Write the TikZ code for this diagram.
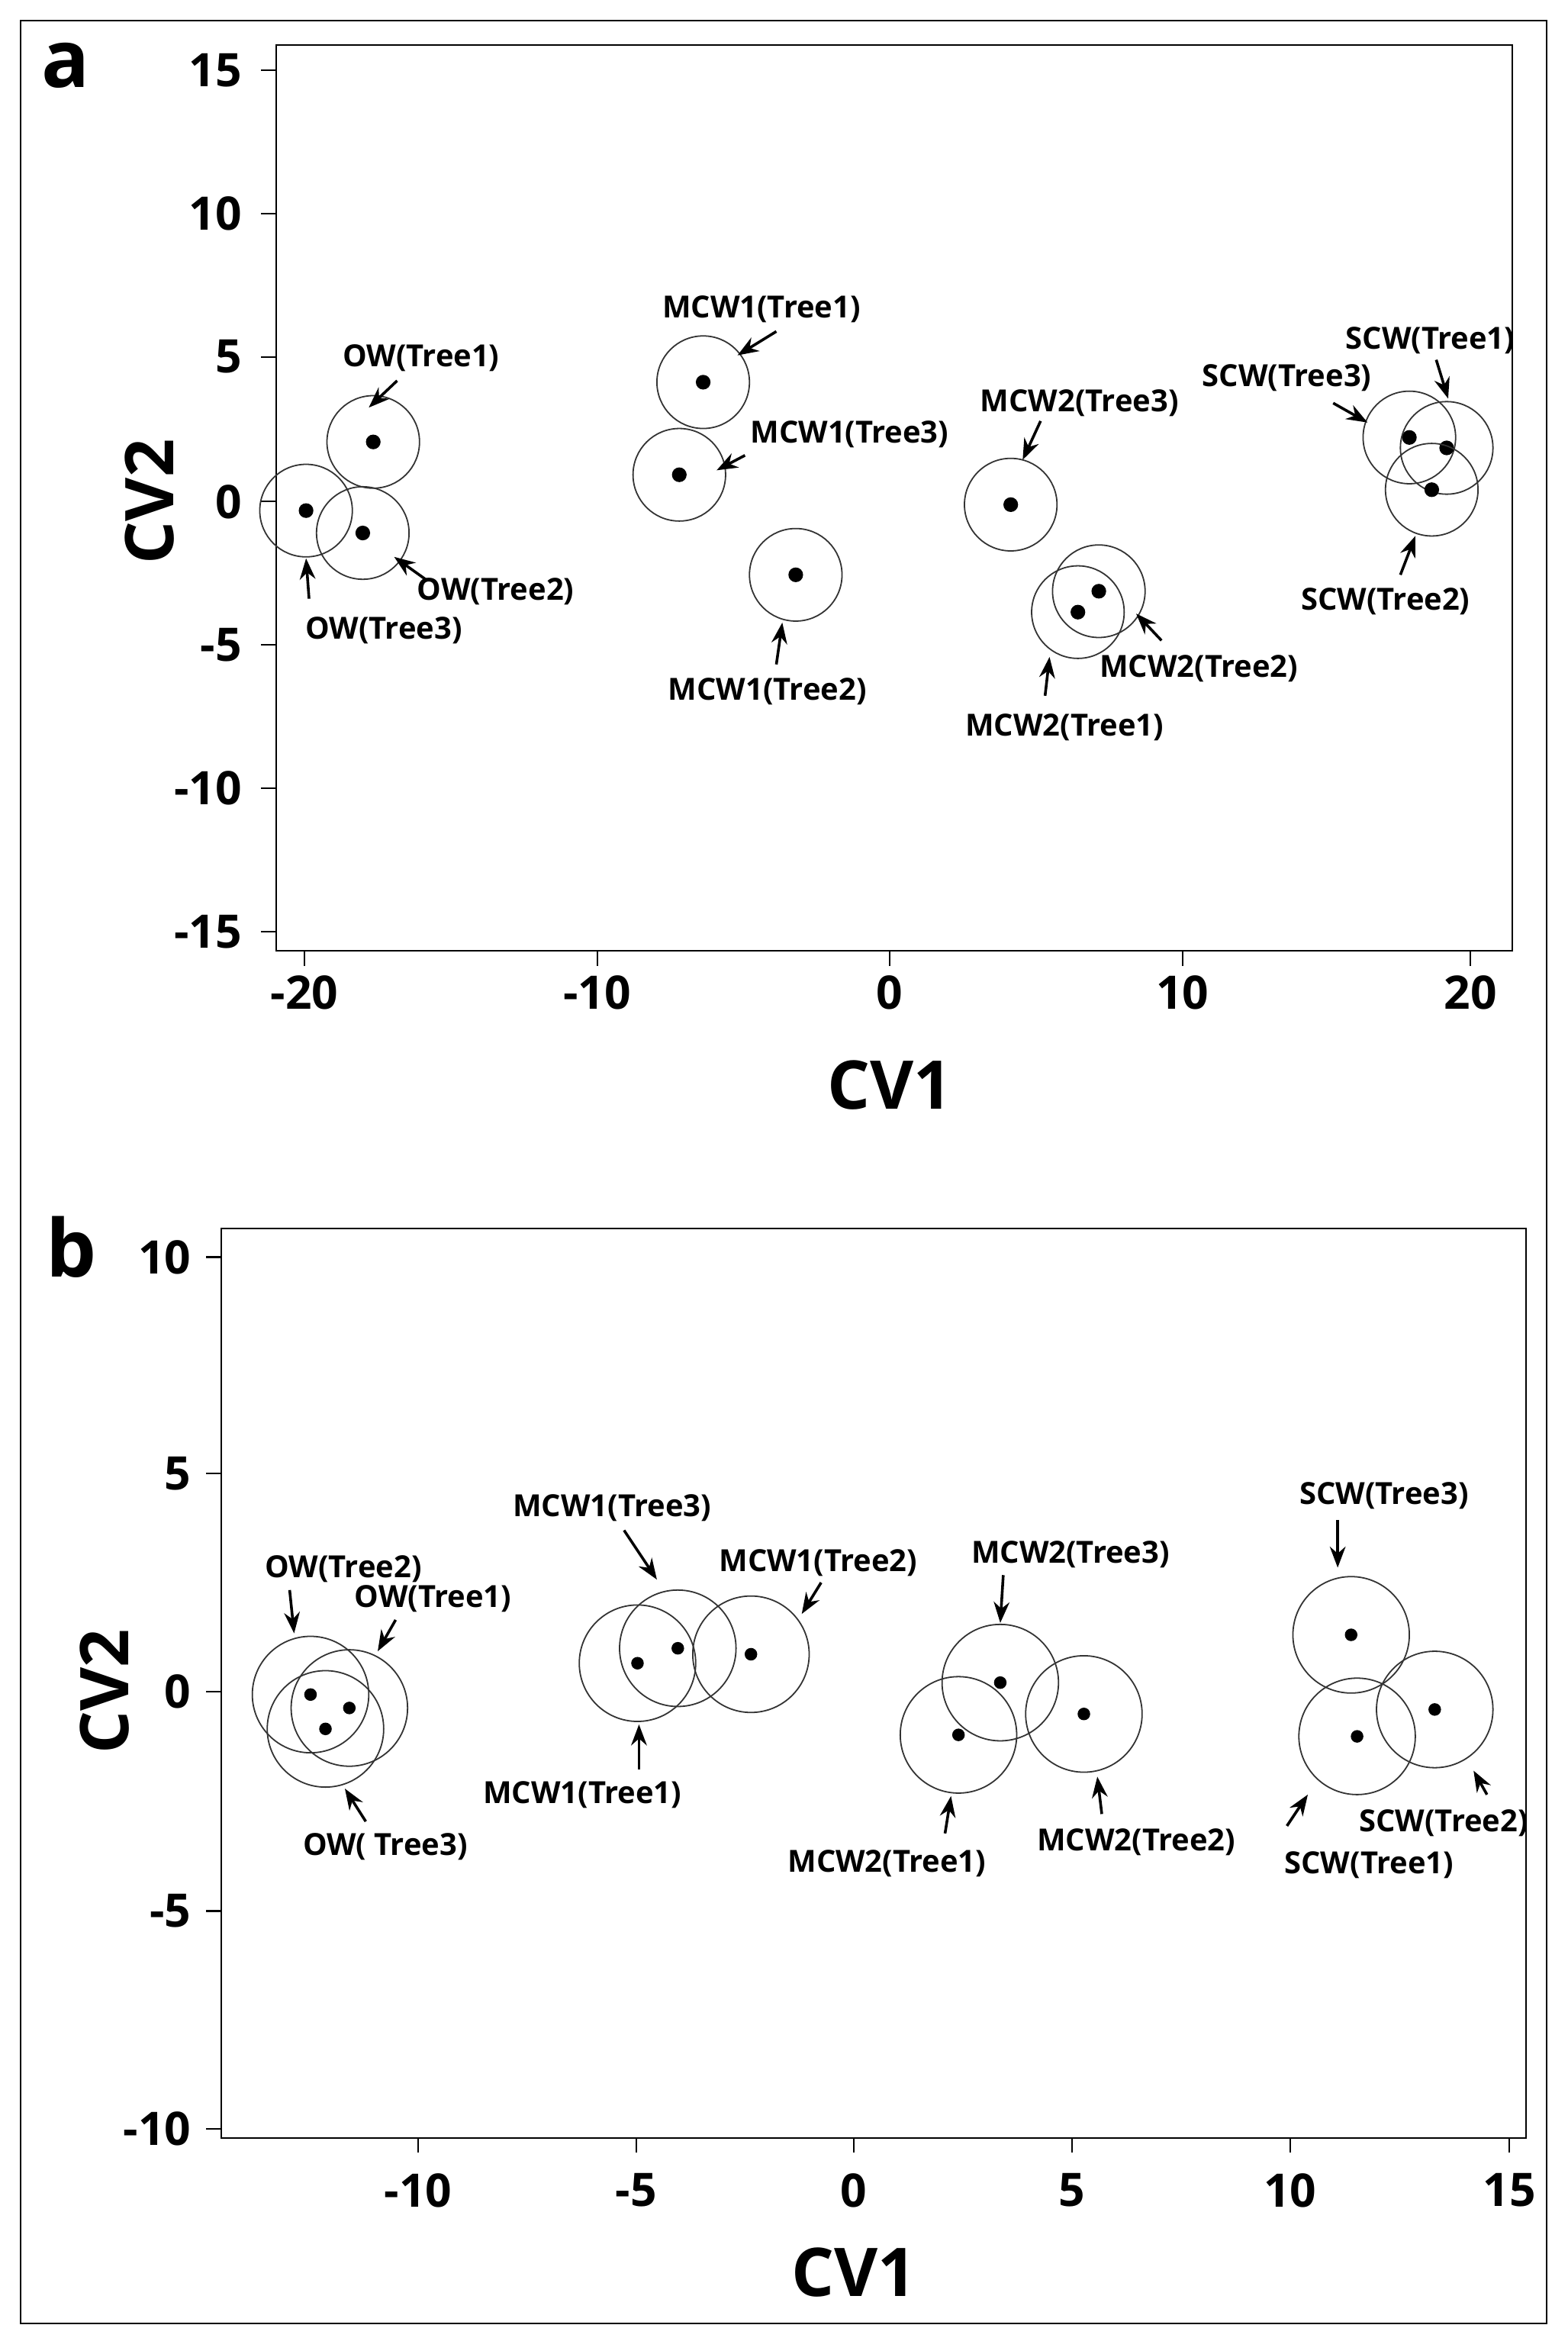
\documentclass[tikz,border=0pt]{standalone}
\usepackage{fontspec}
\setmainfont{Open Sans}
\usetikzlibrary{arrows.meta}
\begin{document}
\begin{tikzpicture}[x=0.05cm,y=-0.05cm,
 lab/.style={font=\fontsize{29}{32}\selectfont\bfseries,inner sep=0},
 tick/.style={font=\fontsize{44}{48}\selectfont\bfseries,inner sep=0},
 axl/.style={font=\fontsize{64}{70}\selectfont\bfseries,inner sep=0},
 arr/.style={line width=2.6pt,-{Stealth[length=20pt,width=15pt]}},
 ca/.style={draw=black!80,line width=1.3pt},
 dt/.style={fill=black,circle,inner sep=0,minimum size=14pt}]
\useasboundingbox (0,0) rectangle (1050,1568);
\draw[line width=1.5pt] (14,14) rectangle (1036,1556);
% panel a
\draw[line width=1.5pt] (185,30) rectangle (1013,637);
\foreach \v/\y in {15/47,10/143,5/239,0/336,-5/432,-10/528,-15/624}{
 \draw[line width=1.5pt] (175,\y)--(185,\y); \node[tick,anchor=east] at (162,\y) {\v};}
\foreach \v/\x in {-20/204,-10/400,0/596,10/792,20/985}{
 \draw[line width=1.5pt] (\x,637)--(\x,647); \node[tick] at (\x,665) {\v};}
\node[axl] at (596,727) {CV1};
\node[axl,rotate=90] at (100,336) {CV2};
\node[font=\fontsize{76}{84}\selectfont\bfseries,inner sep=0] at (44,44) {a};
\foreach \n/\x/\y in {a1/250/296,a2/205/342,a3/243/357,a4/471/256,a5/455/318,a6/533/385,a7/677/338,a8/736/396,a9/722/410,a10/944/293,a11/969/300,a12/959/328}{
 \draw[ca] (\x,\y) circle (31); \node[dt] (\n) at (\x,\y) {};}
\foreach \t/\x/\y/\sx/\sy/\ex/\ey in {OW(Tree1)/282/240/266/255/247/273,
 OW(Tree3)/257/422/207/401/205/374,OW(Tree2)/332/396/285/388/264/373,
 MCW1(Tree1)/510/207/520/222/494/238,MCW1(Tree3)/569/291/499/305/480/315,
 MCW1(Tree2)/514/463/520/445/524/417,MCW2(Tree3)/723/270/697/282/685/308,
 MCW2(Tree2)/803/448/778/429/761/411,MCW2(Tree1)/713/487/700/466/703/440,
 SCW(Tree1)/958/228/962/241/970/267,SCW(Tree3)/862/253/893/270/916/283,
 SCW(Tree2)/928/403/938/385/948/359}{
 \node[lab] at (\x,\y) {\t}; \coordinate (s) at (\sx,\sy); \coordinate (e) at (\ex,\ey); \draw[arr] (s)--(e);}
% panel b
\draw[line width=1.5pt] (148,823) rectangle (1022,1432);
\foreach \v/\y in {10/842,5/987,0/1133,-5/1280,-10/1426}{
 \draw[line width=1.5pt] (138,\y)--(148,\y); \node[tick,anchor=east] at (128,\y) {\v};}
\foreach \v/\x in {-10/280,-5/426,0/572,5/718,10/864,15/1011}{
 \draw[line width=1.5pt] (\x,1432)--(\x,1442); \node[tick] at (\x,1467) {\v};}
\node[axl] at (572,1522) {CV1};
\node[axl,rotate=90] at (70,1133) {CV2};
\node[font=\fontsize{76}{84}\selectfont\bfseries,inner sep=0] at (48,835) {b};
\foreach \n/\x/\y in {b1/208/1135,b2/234/1144,b3/218/1158,b4/427/1114,b5/454/1104,b6/503/1108,b7/670/1127,b8/642/1162,b9/726/1148,b10/905/1095,b11/909/1163,b12/961/1145}{
 \draw[ca] (\x,\y) circle (39); \node[dt,minimum size=12pt] (\n) at (\x,\y) {};}
\foreach \t/\x/\y/\sx/\sy/\ex/\ey in {OW(Tree2)/230/1051/194/1065/197/1094,
 OW(Tree1)/290/1071/265/1085/253/1106,OW( Tree3)/258/1237/245/1220/231/1198,
 MCW1(Tree3)/410/1010/418/1025/440/1058,MCW1(Tree2)/548/1047/550/1060/537/1081,
 MCW1(Tree1)/390/1202/428/1185/428/1155,MCW2(Tree3)/717/1041/672/1055/670/1087,
 MCW2(Tree1)/594/1248/633/1228/637/1203,MCW2(Tree2)/761/1234/738/1215/735/1190,
 SCW(Tree3)/927/1002/896/1018/896/1050,SCW(Tree2)/967/1221/996/1202/987/1186,
 SCW(Tree1)/917/1249/862/1223/876/1202}{
 \node[lab] at (\x,\y) {\t}; \coordinate (s) at (\sx,\sy); \coordinate (e) at (\ex,\ey); \draw[arr] (s)--(e);}
\end{tikzpicture}
\end{document}
